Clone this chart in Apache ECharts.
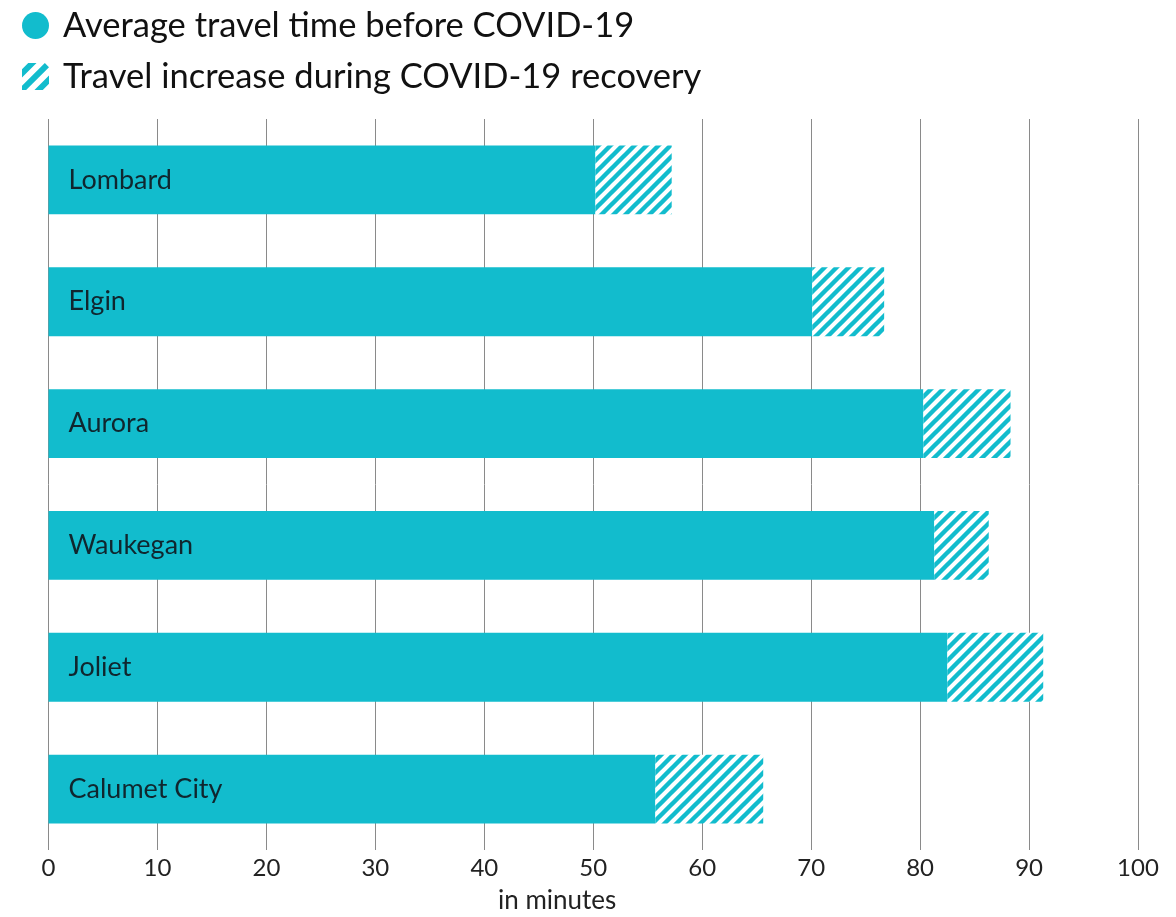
<!DOCTYPE html>
<html>
<head>
<meta charset="utf-8">
<script src="https://cdn.jsdelivr.net/npm/echarts@6/dist/echarts.min.js"></script>
<style>
html,body{margin:0;padding:0;background:#fff;}
#chart{width:1176px;height:917px;}
</style>
</head>
<body>
<div id="chart"></div>
<script>
var categories = ['Lombard', 'Elgin', 'Aurora', 'Waukegan', 'Joliet', 'Calumet City'];
var beforeCovid = [50.2, 70.1, 80.3, 81.3, 82.5, 55.7];
var recoveryIncrease = [7.0, 6.6, 8.0, 5.0, 8.8, 9.9];
var seriesNames = ['Average travel time before COVID-19', 'Travel increase during COVID-19 recovery'];
var xTicks = [0, 10, 20, 30, 40, 50, 60, 70, 80, 90, 100];

var TEAL = '#12bccd';
var FONT = 'Lato, "Open Sans", sans-serif';

function makeHatch() {
  var c = document.createElement('canvas');
  var s = 12;
  c.width = s; c.height = s;
  var ctx = c.getContext('2d');
  ctx.fillStyle = '#ffffff';
  ctx.fillRect(0, 0, s, s);
  ctx.strokeStyle = TEAL;
  ctx.lineWidth = 4.4;
  ctx.beginPath();
  ctx.moveTo(-2, s + 2); ctx.lineTo(s + 2, -2);
  ctx.moveTo(-2, 2); ctx.lineTo(2, -2);
  ctx.moveTo(s - 2, s + 2); ctx.lineTo(s + 2, s - 2);
  ctx.stroke();
  return c;
}
var hatch = { image: makeHatch(), repeat: 'repeat' };

var stripeIcon = 'path://M0,6 L6,0 L14,0 L0,14 Z M0,22 L22,0 L26,4 L26,4 L4,26 L0,26 Z M12,26 L26,12 L26,20 L20,26 Z';

var chart = echarts.init(document.getElementById('chart'), null, { renderer: 'canvas' });
chart.setOption({
  animation: false,
  textStyle: { fontFamily: FONT },
  legend: {
    orient: 'vertical',
    left: 17,
    top: 3,
    itemWidth: 27,
    itemHeight: 27,
    itemGap: 16,
    textStyle: { fontSize: 34.5, color: '#111', fontFamily: FONT, padding: [0, 0, 0, 9] },
    data: [
      { name: seriesNames[0], icon: 'circle' },
      { name: seriesNames[1], icon: stripeIcon, itemStyle: { color: TEAL } }
    ]
  },
  grid: { left: 48.5, right: 38, top: 119, bottom: 67 },
  xAxis: {
    type: 'value',
    min: 0,
    max: 100,
    interval: 10,
    axisLine: { show: false },
    axisTick: { show: false },
    splitLine: { show: true, lineStyle: { color: '#8a8a8a', width: 1 } },
    axisLabel: { fontSize: 24, color: '#222', margin: 6, fontFamily: FONT }
  },
  yAxis: {
    type: 'category',
    inverse: true,
    data: categories,
    axisLine: { show: false },
    axisTick: { show: false },
    axisLabel: { show: false },
    splitLine: { show: false }
  },
  graphic: [{
    type: 'text',
    left: 498,
    top: 888,
    style: { text: 'in minutes', fontSize: 26, fill: '#222', fontFamily: FONT }
  }],
  series: [
    {
      name: seriesNames[0],
      type: 'bar',
      stack: 'total',
      barWidth: '56.5%',
      data: beforeCovid,
      itemStyle: { color: TEAL },
      label: {
        show: true,
        position: 'insideLeft',
        distance: 20,
        formatter: '{b}',
        fontSize: 27,
        color: '#10262e',
        fontFamily: FONT
      },
      z: 3
    },
    {
      name: seriesNames[1],
      type: 'bar',
      stack: 'total',
      barWidth: '56.5%',
      data: recoveryIncrease,
      itemStyle: { color: hatch },
      z: 3
    }
  ]
});
</script>
</body>
</html>
